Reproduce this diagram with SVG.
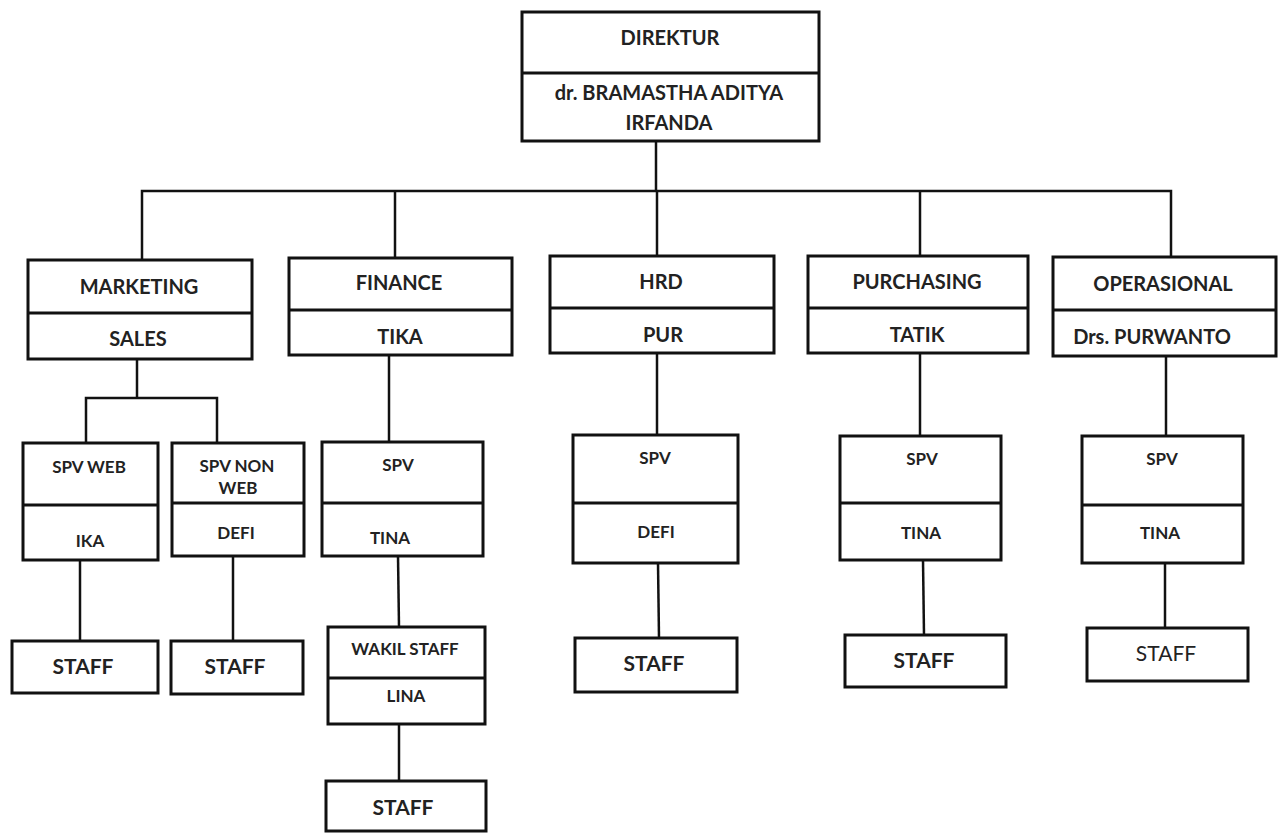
<svg xmlns="http://www.w3.org/2000/svg" width="1280" height="833" viewBox="0 0 1280 833">
<style>
.box{fill:#fff;stroke:#111;stroke-width:3}
.div{stroke:#111;stroke-width:3}
.con{fill:none;stroke:#111;stroke-width:2.5}
text{font-family:Lato,"Liberation Sans",sans-serif;font-weight:700;fill:#222;text-anchor:middle}
.t{font-size:20px}
.s{font-size:17px}
.f{font-size:21px}
.l{font-weight:400}
</style>
<rect width="1280" height="833" fill="#fff"/>
<g id="connectors">
<path class="con" d="M656 141V192"/>
<path class="con" d="M142 260V191H1171V257"/>
<path class="con" d="M395 191V258"/>
<path class="con" d="M657 192V256"/>
<path class="con" d="M920 192V256"/>
<path class="con" d="M137 359V398"/>
<path class="con" d="M86 443V398H217V443"/>
<path class="con" d="M80 560V641"/>
<path class="con" d="M233 556V641"/>
<path class="con" d="M389 355V442"/>
<path class="con" d="M398 556L399 627"/>
<path class="con" d="M399 724V781"/>
<path class="con" d="M657 353V435"/>
<path class="con" d="M658 563L659 638"/>
<path class="con" d="M920 353V436"/>
<path class="con" d="M923 560L924 635"/>
<path class="con" d="M1166 356V436"/>
<path class="con" d="M1165 563V628"/>
</g>
<g id="direktur">
<rect class="box" x="522" y="12" width="297" height="129"/>
<line class="div" x1="522" y1="73" x2="819" y2="73"/>
<text class="t" x="670" y="45">DIREKTUR</text>
<text class="t" x="669" y="100">dr. BRAMASTHA ADITYA</text>
<text class="t" x="669" y="130">IRFANDA</text>
</g>
<g id="marketing">
<rect class="box" x="28" y="260" width="224" height="99"/>
<line class="div" x1="28" y1="313" x2="252" y2="313"/>
<text class="t" x="139" y="294">MARKETING</text>
<text class="t" x="138" y="346">SALES</text>
</g>
<g id="finance">
<rect class="box" x="289" y="258" width="223" height="97"/>
<line class="div" x1="289" y1="310" x2="512" y2="310"/>
<text class="t" x="399" y="290">FINANCE</text>
<text class="t" x="400" y="344">TIKA</text>
</g>
<g id="hrd">
<rect class="box" x="550" y="256" width="224" height="97"/>
<line class="div" x1="550" y1="308" x2="774" y2="308"/>
<text class="t" x="661" y="289">HRD</text>
<text class="t" x="663" y="342">PUR</text>
</g>
<g id="purchasing">
<rect class="box" x="808" y="256" width="220" height="97"/>
<line class="div" x1="808" y1="308" x2="1028" y2="308"/>
<text class="t" x="917" y="289">PURCHASING</text>
<text class="t" x="917" y="342">TATIK</text>
</g>
<g id="operasional">
<rect class="box" x="1053" y="257" width="223" height="99"/>
<line class="div" x1="1053" y1="310" x2="1276" y2="310"/>
<text class="t" x="1163" y="291">OPERASIONAL</text>
<text class="t" x="1152" y="344">Drs. PURWANTO</text>
</g>
<g id="spv-web">
<rect class="box" x="23" y="443" width="135" height="117"/>
<line class="div" x1="23" y1="505" x2="158" y2="505"/>
<text class="s" x="89" y="473">SPV WEB</text>
<text class="s" x="90" y="547">IKA</text>
</g>
<g id="spv-non-web">
<rect class="box" x="172" y="443" width="132" height="113"/>
<line class="div" x1="172" y1="503" x2="304" y2="503"/>
<text class="s" x="237" y="472">SPV NON</text>
<text class="s" x="238" y="494">WEB</text>
<text class="s" x="236" y="539">DEFI</text>
</g>
<g id="staff-web">
<rect class="box" x="12" y="641" width="146" height="52"/>
<text class="f" x="83" y="674">STAFF</text>
</g>
<g id="staff-non-web">
<rect class="box" x="171" y="641" width="132" height="53"/>
<text class="f" x="235" y="674">STAFF</text>
</g>
<g id="spv-finance">
<rect class="box" x="322" y="442" width="161" height="114"/>
<line class="div" x1="322" y1="503" x2="483" y2="503"/>
<text class="s" x="398" y="471">SPV</text>
<text class="s" x="390" y="544">TINA</text>
</g>
<g id="wakil-staff">
<rect class="box" x="328" y="627" width="157" height="97"/>
<line class="div" x1="328" y1="678" x2="485" y2="678"/>
<text class="s" x="405" y="655">WAKIL STAFF</text>
<text class="s" x="406" y="702">LINA</text>
</g>
<g id="staff-finance">
<rect class="box" x="326" y="781" width="160" height="50"/>
<text class="f" x="403" y="815">STAFF</text>
</g>
<g id="spv-hrd">
<rect class="box" x="573" y="435" width="165" height="128"/>
<line class="div" x1="573" y1="503" x2="738" y2="503"/>
<text class="s" x="655" y="464">SPV</text>
<text class="s" x="656" y="538">DEFI</text>
</g>
<g id="staff-hrd">
<rect class="box" x="575" y="638" width="162" height="54"/>
<text class="f" x="654" y="671">STAFF</text>
</g>
<g id="spv-purchasing">
<rect class="box" x="840" y="436" width="161" height="124"/>
<line class="div" x1="840" y1="503" x2="1001" y2="503"/>
<text class="s" x="922" y="465">SPV</text>
<text class="s" x="921" y="539">TINA</text>
</g>
<g id="staff-purchasing">
<rect class="box" x="845" y="635" width="161" height="52"/>
<text class="f" x="924" y="668">STAFF</text>
</g>
<g id="spv-operasional">
<rect class="box" x="1082" y="436" width="161" height="127"/>
<line class="div" x1="1082" y1="505" x2="1243" y2="505"/>
<text class="s" x="1162" y="465">SPV</text>
<text class="s" x="1160" y="539">TINA</text>
</g>
<g id="staff-operasional">
<rect class="box" x="1087" y="628" width="161" height="53"/>
<text class="f l" x="1166" y="661">STAFF</text>
</g>
</svg>
